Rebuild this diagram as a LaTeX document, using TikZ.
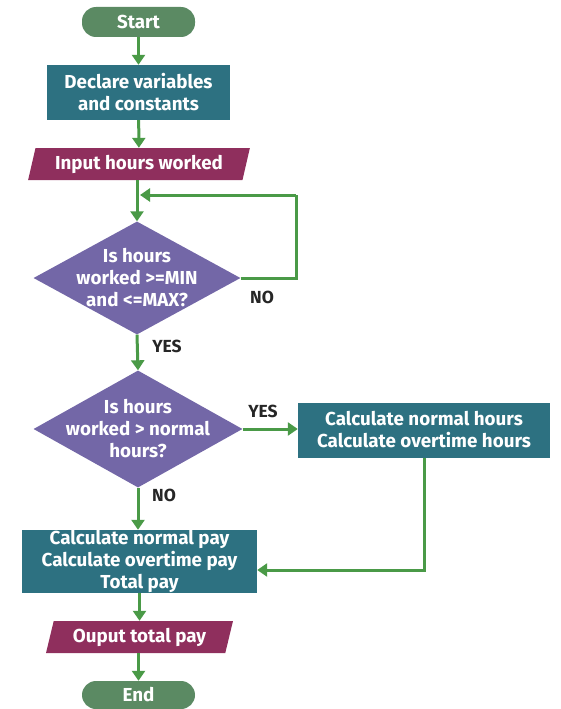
\documentclass[tikz,border=0pt]{standalone}
\usepackage{fontspec}
\setmainfont{Fira Sans}
\usetikzlibrary{arrows.meta,shapes.geometric,calc}

\definecolor{termcol}{HTML}{5B8A63}
\definecolor{proccol}{HTML}{2D7181}
\definecolor{iocol}{HTML}{8F2F5D}
\definecolor{deccol}{HTML}{7367A7}
\definecolor{flowcol}{HTML}{4A9A47}

\tikzset{
  txt/.style={text=white, font=\fontsize{18.8}{22}\selectfont\bfseries, align=center},
  term/.style={txt, fill=termcol, rounded corners=14pt, minimum width=113pt, minimum height=30pt, inner sep=0pt},
  proc/.style={txt, fill=proccol, inner sep=0pt},
  io/.style={txt, fill=iocol, trapezium, trapezium left angle=72, trapezium right angle=108,
    trapezium stretches=true, inner sep=0pt},
  dec/.style={fill=deccol, diamond, inner sep=0pt},
  flow/.style={draw=flowcol, line width=3pt, -{Triangle[width=13pt,length=10pt]}},
  loopline/.style={draw=flowcol, line width=3pt},
  answer/.style={font=\fontsize{17.5}{20}\selectfont\bfseries, text=black!85}
}

\begin{document}
\begin{tikzpicture}[x=1pt,y=-1pt]
    \useasboundingbox (0,0) rectangle (561,709);

    \node[term] (start) at (138.5,22) {Start};
    \node[proc, minimum width=183pt, minimum height=55pt] (declare) at (138.5,92.5) {Declare variables\\and constants};
    \node[io, minimum width=222pt, minimum height=32pt] (input) at (139,164) {Input hours worked};
    \node[dec, minimum width=207pt, minimum height=113pt,
      label={[txt]center:Is hours\\worked >=MIN\\and <=MAX?}] (range) at (137,278) {};
    \node[dec, minimum width=209pt, minimum height=117pt,
      label={[txt]center:Is hours\\worked > normal\\hours?}] (over) at (138,429) {};
    \node[proc, minimum width=252pt, minimum height=55pt] (hours) at (424,430) {Calculate normal hours\\Calculate overtime hours};
    \node[proc, minimum width=235pt, minimum height=63pt] (pay) at (139.5,561.5) {Calculate normal pay\\Calculate overtime pay\\Total pay};
    \node[io, minimum width=187pt, minimum height=32pt] (output) at (139.5,637) {Ouput total pay};
    \node[term, minimum height=28pt] (end) at (138.5,695) {End};

    % loop back corners
    \coordinate (loopR) at (296,195);
    \coordinate (loopL) at (140,195);

    \draw[flow] (start) -- (declare);
    \draw[flow] (declare) -- (input);
    \draw[flow] (input.south -| range.north) -- (range.north);
    \draw[loopline] (range.east) -| (loopR);
    \draw[flow] (loopR) -- (loopL);
    \draw[flow] (range.south) -- (over.north);
    \draw[flow] (over.east) -- (hours.west |- over.east);
    \draw[flow] (over.south) -- (pay.north -| over.south);
    \draw[flow] (hours.south) |- ([yshift=-8.5pt]pay.east);
    \draw[flow] (pay.south -| output.north) -- (output.north);
    \draw[flow] (output.south -| end.north) -- (end.north);

    \node[answer] (noA) at (262,297) {NO};
    \node[answer] (yesA) at (167,346) {YES};
    \node[answer] (yesB) at (263,411) {YES};
    \node[answer] (noB) at (164,495) {NO};

\end{tikzpicture}
\end{document}
